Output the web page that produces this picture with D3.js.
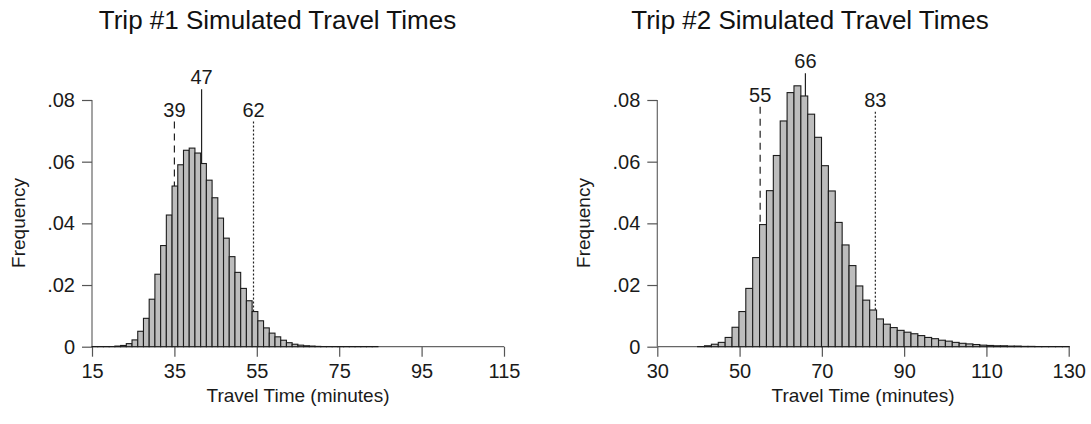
<!DOCTYPE html>
<html>
<head>
<meta charset="utf-8">
<script src="https://cdn.jsdelivr.net/npm/d3@7"></script>
<style>
  body { margin: 0; background: #fff; }
  svg { font-family: "Liberation Sans", Arial, Helvetica, sans-serif; }
</style>
</head>
<body>
<script>
const w = 1091;
const h = 424;

// histogram bins (share of trips per bin)
const trip1Start = 15;
const trip1BinWidth = 1.388;
const trip1Freq = [
  0.00005, 0.00005, 0.00005, 0.00005, 0.0002, 0.0004, 0.001, 0.0022, 0.005, 0.0092,
  0.0154, 0.0235, 0.0328, 0.0427, 0.0521, 0.059, 0.0637, 0.0644, 0.0628, 0.0594,
  0.054, 0.0483, 0.0417, 0.0352, 0.0292, 0.0241, 0.0189, 0.0149, 0.0114, 0.0084,
  0.0061, 0.0044, 0.0032, 0.0021, 0.0013, 0.0008, 0.0005, 0.0003, 0.0002, 0.0001,
  0.00005, 0.00005, 0.00005, 0.00005, 0.00005, 0.00005, 0.00005, 0.00005, 0.00005, 0.00005
];
const trip2Start = 39.8;
const trip2BinWidth = 1.673;
const trip2Freq = [
  0.00005, 0.0003, 0.0008, 0.0014, 0.003, 0.0063, 0.0114, 0.0189, 0.0289, 0.0396,
  0.0506, 0.062, 0.0732, 0.0824, 0.0846, 0.0813, 0.0754, 0.0679, 0.0587, 0.0505,
  0.0403, 0.033, 0.0263, 0.0197, 0.0151, 0.0119, 0.009, 0.0073, 0.0062, 0.0053,
  0.0047, 0.0042, 0.0036, 0.003, 0.0026, 0.0021, 0.0018, 0.0014, 0.0011, 0.0009,
  0.0007, 0.0005, 0.0004, 0.0003, 0.0003, 0.0002, 0.0002, 0.0001, 0.0001, 0.00005,
  0.00005, 0.00005, 0.00005, 0.00005
];

// marker lines: where they sit on the x axis, how tall, and their labels
const trip1Marks = [35, 41.6, 54.2];
const trip1MarkTop = [0.073, 0.0835, 0.073];
const trip1MarkLabels = ["39", "47", "62"];
const trip2Marks = [55, 66, 83];
const trip2MarkTop = [0.0778, 0.0887, 0.0762];
const trip2MarkLabels = ["55", "66", "83"];

const trip1Ticks = [15, 35, 55, 75, 95, 115];
const trip2Ticks = [30, 50, 70, 90, 110, 130];
const yTicks = [0, 0.02, 0.04, 0.06, 0.08];
const yTickLabels = ["0", ".02", ".04", ".06", ".08"];

const titles = ["Trip #1 Simulated Travel Times", "Trip #2 Simulated Travel Times"];
const xTitle = "Travel Time (minutes)";
const yTitle = "Frequency";

const svg = d3.select("body").append("svg")
  .attr("width", w)
  .attr("height", h);

const dashes = ["7,5", null, "2,2"];

function drawPanel(opt) {
  const x = d3.scaleLinear().domain(d3.extent(opt.ticks)).range([opt.left, opt.right]);
  const y = d3.scaleLinear().domain([0, 0.08]).range([346.7, 100]);
  const g = svg.append("g");

  // marker lines sit behind the bars
  g.selectAll("line.mark")
    .data(opt.marks)
    .enter()
    .append("line")
    .attr("class", "mark")
    .attr("x1", d => x(d))
    .attr("x2", d => x(d))
    .attr("y1", (d, i) => y(opt.markTop[i]))
    .attr("y2", y(0))
    .attr("stroke", "#222")
    .attr("stroke-width", 1.2)
    .attr("stroke-dasharray", (d, i) => dashes[i]);

  g.selectAll("text.mark")
    .data(opt.marks)
    .enter()
    .append("text")
    .attr("class", "mark")
    .attr("x", d => x(d))
    .attr("y", (d, i) => y(opt.markTop[i]) - 5)
    .attr("text-anchor", "middle")
    .style("font-size", "20px")
    .attr("fill", "#1a1a1a")
    .text((d, i) => opt.markLabels[i]);

  // axes (Stata style: gray lines spanning the tick range)
  const xAxis = d3.axisBottom(x).tickValues(opt.ticks).tickSize(10).tickPadding(7);
  const gx = g.append("g").attr("transform", "translate(0," + y(0) + ")").call(xAxis);
  const yAxis = d3.axisLeft(y).tickValues(yTicks).tickSize(10).tickPadding(7)
    .tickFormat((d, i) => yTickLabels[i]);
  const gy = g.append("g").attr("transform", "translate(" + opt.left + ",0)").call(yAxis);
  [gx, gy].forEach(a => {
    a.select(".domain").attr("stroke", "#666").attr("stroke-width", 1.2)
      .attr("d", a === gx ? "M" + opt.left + ",0H" + opt.right : "M0," + y(0.08) + "V" + y(0));
    a.selectAll(".tick line").attr("stroke", "#555").attr("stroke-width", 1.2);
    a.selectAll(".tick text").attr("fill", "#1a1a1a").style("font-size", "20px")
      .attr("font-family", null);
    a.attr("font-family", null).attr("font-size", null);
  });

  // bars
  g.selectAll("rect.bar")
    .data(opt.freq)
    .enter()
    .append("rect")
    .attr("class", "bar")
    .attr("x", (d, i) => x(opt.start + i * opt.binWidth))
    .attr("width", (d, i) => x(opt.start + (i + 1) * opt.binWidth) - x(opt.start + i * opt.binWidth))
    .attr("y", d => y(d))
    .attr("height", d => y(0) - y(d))
    .attr("fill", "#bdbdbd")
    .attr("stroke", "#1c1c1c")
    .attr("stroke-width", 1.1);

  svg.append("text")
    .attr("x", opt.titleX)
    .attr("y", 29)
    .attr("text-anchor", "middle")
    .style("font-size", "26px")
    .attr("fill", "#111")
    .text(opt.title);

  svg.append("text")
    .attr("x", (opt.left + opt.right) / 2)
    .attr("y", 402)
    .attr("text-anchor", "middle")
    .style("font-size", "19px")
    .attr("fill", "#1a1a1a")
    .text(xTitle);

  svg.append("text")
    .attr("transform", "translate(" + opt.yTitleX + ",223) rotate(-90)")
    .attr("text-anchor", "middle")
    .style("font-size", "19px")
    .attr("fill", "#1a1a1a")
    .text(yTitle);
}

drawPanel({
  left: 92, right: 504, ticks: trip1Ticks, freq: trip1Freq,
  start: trip1Start, binWidth: trip1BinWidth,
  marks: trip1Marks, markTop: trip1MarkTop, markLabels: trip1MarkLabels,
  title: titles[0], titleX: 277.5, yTitleX: 25
});

drawPanel({
  left: 657.3, right: 1068.7, ticks: trip2Ticks, freq: trip2Freq,
  start: trip2Start, binWidth: trip2BinWidth,
  marks: trip2Marks, markTop: trip2MarkTop, markLabels: trip2MarkLabels,
  title: titles[1], titleX: 810, yTitleX: 590
});
</script>
</body>
</html>
